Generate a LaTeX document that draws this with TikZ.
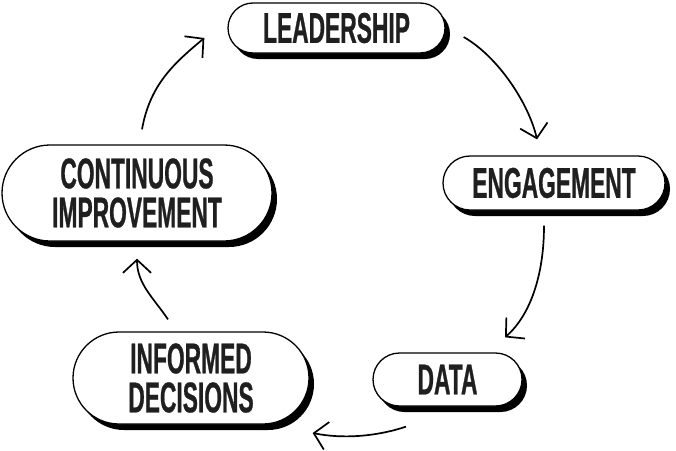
\documentclass[tikz,border=0pt]{standalone}
\usepackage{fontspec}
\newfontfamily\pillfont{Liberation Sans}[FakeStretch=0.53,FakeBold=0.6]
\usetikzlibrary{shapes.misc,shadows,arrows.meta,calc}
\tikzset{
  pill/.style={rounded rectangle, draw=black, line width=1.3pt, fill=white,
    inner sep=0pt, align=center, text=black!88,
    font=\pillfont\bfseries\fontsize{43}{39}\selectfont,
    drop shadow={shadow xshift=5pt, shadow yshift=-6pt, fill=black, opacity=1}},
  arr/.style={line width=1.7pt, -{Straight Barb[length=13pt,width=28pt,line width=1.7pt]}}
}
\begin{document}
\begin{tikzpicture}[x=1pt,y=-1pt]
\useasboundingbox (0,0) rectangle (676,450);
\node[pill, minimum width=217pt, minimum height=50pt] (lead) at (336.5,28) {LEADERSHIP};
\node[pill, minimum width=222pt, minimum height=54pt] (eng) at (554,183) {ENGAGEMENT};
\node[pill, minimum width=149pt, minimum height=53pt] (data) at (447.5,379.5) {DATA};
\node[pill, minimum width=236pt, minimum height=92pt] (inf) at (191,378) {INFORMED\\DECISIONS};
\node[pill, minimum width=270pt, minimum height=96pt] (ci) at (137,193) {CONTINUOUS\\IMPROVEMENT};
% arrows
\draw[arr] ($(ci.north)+(5,-15)$) .. controls +(8,-45) and +(-30,25) .. ($(lead.west)+(-23,10)$);
\draw[arr] ($(lead.east)+(18,9)$) .. controls +(35,20) and +(-8,-35) .. ($(eng.north)+(-17,-16)$);
\draw[arr] ($(eng.south)+(-10,15)$) .. controls +(0,50) and +(25,-22) .. ($(data.north)+(57.5,-15)$);
\draw[arr] ($(data.south)+(-41.5,20)$) .. controls +(-30,10) and +(30,6) .. ($(inf.east)+(3,55)$);
\draw[arr] ($(inf.north)+(-23,-12)$) .. controls +(-15,-22) and +(0,25) .. ($(ci.south)+(0,17)$);
\end{tikzpicture}
\end{document}
